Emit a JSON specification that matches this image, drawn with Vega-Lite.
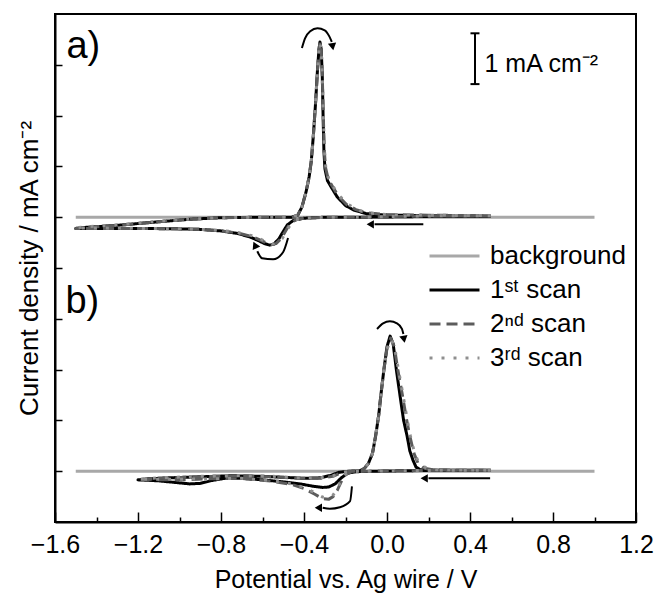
{
  "$schema": "https://vega.github.io/schema/vega-lite/v6.json",
  "width": 581,
  "height": 508,
  "autosize": {"type": "none"},
  "padding": {"left": 55, "top": 14, "right": 18, "bottom": 73},
  "config": {
    "font": "Liberation Sans",
    "view": {"stroke": "#000", "strokeWidth": 2},
    "axis": {"domainColor": "#000", "domainWidth": 2, "tickColor": "#000", "tickWidth": 1.5, "grid": false, "labelColor": "#000", "titleColor": "#000", "titleFontWeight": "normal", "labelFont": "Liberation Sans", "titleFont": "Liberation Sans"},
    "legend": {"labelFont": "Liberation Sans"}
  },
  "datasets": {
    "cv": [
      {"p":"a","s":"bg","i":0,"E":-1.5,"j":6.0},{"p":"a","s":"bg","i":1,"E":1.0,"j":6.0},
      {"p":"b","s":"bg","i":0,"E":-1.5,"j":1.0},{"p":"b","s":"bg","i":1,"E":1.0,"j":1.0},

      {"p":"a","s":"s1","i":0,"E":0.5,"j":6.02},{"p":"a","s":"s1","i":1,"E":0.3,"j":6.02},{"p":"a","s":"s1","i":2,"E":0.1,"j":6.01},{"p":"a","s":"s1","i":3,"E":-0.1,"j":6.0},{"p":"a","s":"s1","i":4,"E":-0.3,"j":6.0},{"p":"a","s":"s1","i":5,"E":-0.4,"j":5.98},{"p":"a","s":"s1","i":6,"E":-0.45,"j":5.94},{"p":"a","s":"s1","i":7,"E":-0.48,"j":5.85},{"p":"a","s":"s1","i":8,"E":-0.5,"j":5.72},{"p":"a","s":"s1","i":9,"E":-0.52,"j":5.58},{"p":"a","s":"s1","i":10,"E":-0.545,"j":5.47},{"p":"a","s":"s1","i":11,"E":-0.565,"j":5.45},{"p":"a","s":"s1","i":12,"E":-0.59,"j":5.48},{"p":"a","s":"s1","i":13,"E":-0.62,"j":5.54},{"p":"a","s":"s1","i":14,"E":-0.66,"j":5.61},{"p":"a","s":"s1","i":15,"E":-0.72,"j":5.68},{"p":"a","s":"s1","i":16,"E":-0.8,"j":5.73},{"p":"a","s":"s1","i":17,"E":-0.9,"j":5.76},{"p":"a","s":"s1","i":18,"E":-1.0,"j":5.77},{"p":"a","s":"s1","i":19,"E":-1.2,"j":5.78},{"p":"a","s":"s1","i":20,"E":-1.5,"j":5.78},{"p":"a","s":"s1","i":21,"E":-1.45,"j":5.8},{"p":"a","s":"s1","i":22,"E":-1.3,"j":5.84},{"p":"a","s":"s1","i":23,"E":-1.1,"j":5.91},{"p":"a","s":"s1","i":24,"E":-0.95,"j":5.96},{"p":"a","s":"s1","i":25,"E":-0.8,"j":5.99},{"p":"a","s":"s1","i":26,"E":-0.6,"j":6.0},{"p":"a","s":"s1","i":27,"E":-0.46,"j":6.0},{"p":"a","s":"s1","i":28,"E":-0.43,"j":6.04},{"p":"a","s":"s1","i":29,"E":-0.41,"j":6.2},{"p":"a","s":"s1","i":30,"E":-0.39,"j":6.5},{"p":"a","s":"s1","i":31,"E":-0.375,"j":6.8},{"p":"a","s":"s1","i":32,"E":-0.365,"j":7.1},{"p":"a","s":"s1","i":33,"E":-0.355,"j":7.6},{"p":"a","s":"s1","i":34,"E":-0.345,"j":8.2},{"p":"a","s":"s1","i":35,"E":-0.335,"j":8.9},{"p":"a","s":"s1","i":36,"E":-0.328,"j":9.3},{"p":"a","s":"s1","i":37,"E":-0.323,"j":9.45},{"p":"a","s":"s1","i":38,"E":-0.317,"j":9.3},{"p":"a","s":"s1","i":39,"E":-0.312,"j":8.8},{"p":"a","s":"s1","i":40,"E":-0.308,"j":8.0},{"p":"a","s":"s1","i":41,"E":-0.304,"j":7.3},{"p":"a","s":"s1","i":42,"E":-0.299,"j":6.95},{"p":"a","s":"s1","i":43,"E":-0.287,"j":6.72},{"p":"a","s":"s1","i":44,"E":-0.267,"j":6.58},{"p":"a","s":"s1","i":45,"E":-0.24,"j":6.4},{"p":"a","s":"s1","i":46,"E":-0.2,"j":6.23},{"p":"a","s":"s1","i":47,"E":-0.16,"j":6.14},{"p":"a","s":"s1","i":48,"E":-0.1,"j":6.07},{"p":"a","s":"s1","i":49,"E":0.0,"j":6.04},{"p":"a","s":"s1","i":50,"E":0.2,"j":6.03},{"p":"a","s":"s1","i":51,"E":0.5,"j":6.02},

      {"p":"a","s":"s2","i":0,"E":0.5,"j":6.03},{"p":"a","s":"s2","i":1,"E":0.3,"j":6.03},{"p":"a","s":"s2","i":2,"E":0.1,"j":6.02},{"p":"a","s":"s2","i":3,"E":-0.1,"j":6.0},{"p":"a","s":"s2","i":4,"E":-0.3,"j":6.0},{"p":"a","s":"s2","i":5,"E":-0.4,"j":5.98},{"p":"a","s":"s2","i":6,"E":-0.44,"j":5.95},{"p":"a","s":"s2","i":7,"E":-0.47,"j":5.86},{"p":"a","s":"s2","i":8,"E":-0.49,"j":5.72},{"p":"a","s":"s2","i":9,"E":-0.51,"j":5.58},{"p":"a","s":"s2","i":10,"E":-0.535,"j":5.48},{"p":"a","s":"s2","i":11,"E":-0.555,"j":5.46},{"p":"a","s":"s2","i":12,"E":-0.58,"j":5.49},{"p":"a","s":"s2","i":13,"E":-0.61,"j":5.55},{"p":"a","s":"s2","i":14,"E":-0.65,"j":5.62},{"p":"a","s":"s2","i":15,"E":-0.72,"j":5.69},{"p":"a","s":"s2","i":16,"E":-0.8,"j":5.73},{"p":"a","s":"s2","i":17,"E":-0.9,"j":5.76},{"p":"a","s":"s2","i":18,"E":-1.0,"j":5.77},{"p":"a","s":"s2","i":19,"E":-1.2,"j":5.78},{"p":"a","s":"s2","i":20,"E":-1.5,"j":5.78},{"p":"a","s":"s2","i":21,"E":-1.45,"j":5.8},{"p":"a","s":"s2","i":22,"E":-1.3,"j":5.84},{"p":"a","s":"s2","i":23,"E":-1.1,"j":5.91},{"p":"a","s":"s2","i":24,"E":-0.95,"j":5.96},{"p":"a","s":"s2","i":25,"E":-0.8,"j":5.99},{"p":"a","s":"s2","i":26,"E":-0.6,"j":6.0},{"p":"a","s":"s2","i":27,"E":-0.46,"j":6.0},{"p":"a","s":"s2","i":28,"E":-0.43,"j":6.04},{"p":"a","s":"s2","i":29,"E":-0.41,"j":6.2},{"p":"a","s":"s2","i":30,"E":-0.39,"j":6.5},{"p":"a","s":"s2","i":31,"E":-0.375,"j":6.8},{"p":"a","s":"s2","i":32,"E":-0.365,"j":7.1},{"p":"a","s":"s2","i":33,"E":-0.355,"j":7.6},{"p":"a","s":"s2","i":34,"E":-0.345,"j":8.2},{"p":"a","s":"s2","i":35,"E":-0.335,"j":8.9},{"p":"a","s":"s2","i":36,"E":-0.328,"j":9.3},{"p":"a","s":"s2","i":37,"E":-0.323,"j":9.44},{"p":"a","s":"s2","i":38,"E":-0.317,"j":9.3},{"p":"a","s":"s2","i":39,"E":-0.312,"j":8.8},{"p":"a","s":"s2","i":40,"E":-0.307,"j":8.0},{"p":"a","s":"s2","i":41,"E":-0.302,"j":7.3},{"p":"a","s":"s2","i":42,"E":-0.296,"j":6.97},{"p":"a","s":"s2","i":43,"E":-0.283,"j":6.75},{"p":"a","s":"s2","i":44,"E":-0.262,"j":6.6},{"p":"a","s":"s2","i":45,"E":-0.235,"j":6.42},{"p":"a","s":"s2","i":46,"E":-0.195,"j":6.25},{"p":"a","s":"s2","i":47,"E":-0.15,"j":6.15},{"p":"a","s":"s2","i":48,"E":-0.1,"j":6.09},{"p":"a","s":"s2","i":49,"E":0.0,"j":6.05},{"p":"a","s":"s2","i":50,"E":0.2,"j":6.04},{"p":"a","s":"s2","i":51,"E":0.5,"j":6.03},

      {"p":"a","s":"s3","i":0,"E":0.5,"j":6.03},{"p":"a","s":"s3","i":1,"E":0.3,"j":6.03},{"p":"a","s":"s3","i":2,"E":0.1,"j":6.02},{"p":"a","s":"s3","i":3,"E":-0.1,"j":6.0},{"p":"a","s":"s3","i":4,"E":-0.3,"j":6.0},{"p":"a","s":"s3","i":5,"E":-0.4,"j":5.98},{"p":"a","s":"s3","i":6,"E":-0.44,"j":5.95},{"p":"a","s":"s3","i":7,"E":-0.465,"j":5.86},{"p":"a","s":"s3","i":8,"E":-0.485,"j":5.72},{"p":"a","s":"s3","i":9,"E":-0.505,"j":5.58},{"p":"a","s":"s3","i":10,"E":-0.53,"j":5.49},{"p":"a","s":"s3","i":11,"E":-0.55,"j":5.47},{"p":"a","s":"s3","i":12,"E":-0.575,"j":5.5},{"p":"a","s":"s3","i":13,"E":-0.605,"j":5.56},{"p":"a","s":"s3","i":14,"E":-0.645,"j":5.63},{"p":"a","s":"s3","i":15,"E":-0.72,"j":5.7},{"p":"a","s":"s3","i":16,"E":-0.8,"j":5.74},{"p":"a","s":"s3","i":17,"E":-0.9,"j":5.76},{"p":"a","s":"s3","i":18,"E":-1.0,"j":5.77},{"p":"a","s":"s3","i":19,"E":-1.2,"j":5.78},{"p":"a","s":"s3","i":20,"E":-1.5,"j":5.79},{"p":"a","s":"s3","i":21,"E":-1.45,"j":5.81},{"p":"a","s":"s3","i":22,"E":-1.3,"j":5.85},{"p":"a","s":"s3","i":23,"E":-1.1,"j":5.92},{"p":"a","s":"s3","i":24,"E":-0.95,"j":5.96},{"p":"a","s":"s3","i":25,"E":-0.8,"j":5.99},{"p":"a","s":"s3","i":26,"E":-0.6,"j":6.0},{"p":"a","s":"s3","i":27,"E":-0.46,"j":6.0},{"p":"a","s":"s3","i":28,"E":-0.43,"j":6.04},{"p":"a","s":"s3","i":29,"E":-0.41,"j":6.2},{"p":"a","s":"s3","i":30,"E":-0.39,"j":6.5},{"p":"a","s":"s3","i":31,"E":-0.375,"j":6.8},{"p":"a","s":"s3","i":32,"E":-0.365,"j":7.1},{"p":"a","s":"s3","i":33,"E":-0.355,"j":7.6},{"p":"a","s":"s3","i":34,"E":-0.345,"j":8.2},{"p":"a","s":"s3","i":35,"E":-0.335,"j":8.9},{"p":"a","s":"s3","i":36,"E":-0.328,"j":9.3},{"p":"a","s":"s3","i":37,"E":-0.323,"j":9.43},{"p":"a","s":"s3","i":38,"E":-0.317,"j":9.3},{"p":"a","s":"s3","i":39,"E":-0.312,"j":8.8},{"p":"a","s":"s3","i":40,"E":-0.307,"j":8.0},{"p":"a","s":"s3","i":41,"E":-0.301,"j":7.3},{"p":"a","s":"s3","i":42,"E":-0.295,"j":6.98},{"p":"a","s":"s3","i":43,"E":-0.281,"j":6.76},{"p":"a","s":"s3","i":44,"E":-0.26,"j":6.61},{"p":"a","s":"s3","i":45,"E":-0.232,"j":6.43},{"p":"a","s":"s3","i":46,"E":-0.19,"j":6.26},{"p":"a","s":"s3","i":47,"E":-0.145,"j":6.15},{"p":"a","s":"s3","i":48,"E":-0.1,"j":6.09},{"p":"a","s":"s3","i":49,"E":0.0,"j":6.05},{"p":"a","s":"s3","i":50,"E":0.2,"j":6.04},{"p":"a","s":"s3","i":51,"E":0.5,"j":6.03},

      {"p":"b","s":"s1","i":0,"E":0.5,"j":1.02},{"p":"b","s":"s1","i":1,"E":0.3,"j":1.02},{"p":"b","s":"s1","i":2,"E":0.1,"j":1.01},{"p":"b","s":"s1","i":3,"E":-0.05,"j":1.0},{"p":"b","s":"s1","i":4,"E":-0.15,"j":0.99},{"p":"b","s":"s1","i":5,"E":-0.19,"j":0.96},{"p":"b","s":"s1","i":6,"E":-0.22,"j":0.87},{"p":"b","s":"s1","i":7,"E":-0.25,"j":0.75},{"p":"b","s":"s1","i":8,"E":-0.28,"j":0.69},{"p":"b","s":"s1","i":9,"E":-0.31,"j":0.68},{"p":"b","s":"s1","i":10,"E":-0.35,"j":0.7},{"p":"b","s":"s1","i":11,"E":-0.42,"j":0.75},{"p":"b","s":"s1","i":12,"E":-0.5,"j":0.79},{"p":"b","s":"s1","i":13,"E":-0.6,"j":0.83},{"p":"b","s":"s1","i":14,"E":-0.7,"j":0.86},{"p":"b","s":"s1","i":15,"E":-0.78,"j":0.86},{"p":"b","s":"s1","i":16,"E":-0.84,"j":0.82},{"p":"b","s":"s1","i":17,"E":-0.9,"j":0.76},{"p":"b","s":"s1","i":18,"E":-0.95,"j":0.75},{"p":"b","s":"s1","i":19,"E":-1.0,"j":0.77},{"p":"b","s":"s1","i":20,"E":-1.1,"j":0.81},{"p":"b","s":"s1","i":21,"E":-1.2,"j":0.83},{"p":"b","s":"s1","i":22,"E":-1.15,"j":0.85},{"p":"b","s":"s1","i":23,"E":-1.05,"j":0.87},{"p":"b","s":"s1","i":24,"E":-0.9,"j":0.89},{"p":"b","s":"s1","i":25,"E":-0.75,"j":0.91},{"p":"b","s":"s1","i":26,"E":-0.6,"j":0.9},{"p":"b","s":"s1","i":27,"E":-0.5,"j":0.88},{"p":"b","s":"s1","i":28,"E":-0.4,"j":0.86},{"p":"b","s":"s1","i":29,"E":-0.32,"j":0.87},{"p":"b","s":"s1","i":30,"E":-0.27,"j":0.92},{"p":"b","s":"s1","i":31,"E":-0.23,"j":0.98},{"p":"b","s":"s1","i":32,"E":-0.18,"j":1.0},{"p":"b","s":"s1","i":33,"E":-0.13,"j":1.01},{"p":"b","s":"s1","i":34,"E":-0.11,"j":1.05},{"p":"b","s":"s1","i":35,"E":-0.09,"j":1.15},{"p":"b","s":"s1","i":36,"E":-0.07,"j":1.35},{"p":"b","s":"s1","i":37,"E":-0.055,"j":1.69},{"p":"b","s":"s1","i":38,"E":-0.04,"j":2.1},{"p":"b","s":"s1","i":39,"E":-0.03,"j":2.48},{"p":"b","s":"s1","i":40,"E":-0.015,"j":3.0},{"p":"b","s":"s1","i":41,"E":0.0,"j":3.45},{"p":"b","s":"s1","i":42,"E":0.015,"j":3.66},{"p":"b","s":"s1","i":43,"E":0.03,"j":3.5},{"p":"b","s":"s1","i":44,"E":0.045,"j":3.0},{"p":"b","s":"s1","i":45,"E":0.063,"j":2.48},{"p":"b","s":"s1","i":46,"E":0.08,"j":2.0},{"p":"b","s":"s1","i":47,"E":0.097,"j":1.69},{"p":"b","s":"s1","i":48,"E":0.11,"j":1.4},{"p":"b","s":"s1","i":49,"E":0.125,"j":1.22},{"p":"b","s":"s1","i":50,"E":0.14,"j":1.08},{"p":"b","s":"s1","i":51,"E":0.16,"j":1.03},{"p":"b","s":"s1","i":52,"E":0.25,"j":1.02},{"p":"b","s":"s1","i":53,"E":0.5,"j":1.02},

      {"p":"b","s":"s2","i":0,"E":0.5,"j":1.02},{"p":"b","s":"s2","i":1,"E":0.3,"j":1.02},{"p":"b","s":"s2","i":2,"E":0.1,"j":1.01},{"p":"b","s":"s2","i":3,"E":-0.1,"j":1.0},{"p":"b","s":"s2","i":4,"E":-0.17,"j":0.99},{"p":"b","s":"s2","i":5,"E":-0.2,"j":0.93},{"p":"b","s":"s2","i":6,"E":-0.22,"j":0.8},{"p":"b","s":"s2","i":7,"E":-0.24,"j":0.62},{"p":"b","s":"s2","i":8,"E":-0.26,"j":0.5},{"p":"b","s":"s2","i":9,"E":-0.28,"j":0.45},{"p":"b","s":"s2","i":10,"E":-0.31,"j":0.46},{"p":"b","s":"s2","i":11,"E":-0.35,"j":0.55},{"p":"b","s":"s2","i":12,"E":-0.4,"j":0.66},{"p":"b","s":"s2","i":13,"E":-0.46,"j":0.74},{"p":"b","s":"s2","i":14,"E":-0.55,"j":0.8},{"p":"b","s":"s2","i":15,"E":-0.7,"j":0.86},{"p":"b","s":"s2","i":16,"E":-0.85,"j":0.85},{"p":"b","s":"s2","i":17,"E":-1.0,"j":0.83},{"p":"b","s":"s2","i":18,"E":-1.2,"j":0.83},{"p":"b","s":"s2","i":19,"E":-1.1,"j":0.86},{"p":"b","s":"s2","i":20,"E":-0.9,"j":0.89},{"p":"b","s":"s2","i":21,"E":-0.7,"j":0.91},{"p":"b","s":"s2","i":22,"E":-0.55,"j":0.89},{"p":"b","s":"s2","i":23,"E":-0.42,"j":0.86},{"p":"b","s":"s2","i":24,"E":-0.32,"j":0.86},{"p":"b","s":"s2","i":25,"E":-0.26,"j":0.9},{"p":"b","s":"s2","i":26,"E":-0.22,"j":0.97},{"p":"b","s":"s2","i":27,"E":-0.18,"j":1.0},{"p":"b","s":"s2","i":28,"E":-0.13,"j":1.01},{"p":"b","s":"s2","i":29,"E":-0.11,"j":1.05},{"p":"b","s":"s2","i":30,"E":-0.09,"j":1.15},{"p":"b","s":"s2","i":31,"E":-0.07,"j":1.35},{"p":"b","s":"s2","i":32,"E":-0.055,"j":1.69},{"p":"b","s":"s2","i":33,"E":-0.04,"j":2.1},{"p":"b","s":"s2","i":34,"E":-0.03,"j":2.48},{"p":"b","s":"s2","i":35,"E":-0.015,"j":3.0},{"p":"b","s":"s2","i":36,"E":0.0,"j":3.42},{"p":"b","s":"s2","i":37,"E":0.018,"j":3.62},{"p":"b","s":"s2","i":38,"E":0.035,"j":3.45},{"p":"b","s":"s2","i":39,"E":0.052,"j":3.0},{"p":"b","s":"s2","i":40,"E":0.075,"j":2.48},{"p":"b","s":"s2","i":41,"E":0.095,"j":2.0},{"p":"b","s":"s2","i":42,"E":0.11,"j":1.69},{"p":"b","s":"s2","i":43,"E":0.13,"j":1.35},{"p":"b","s":"s2","i":44,"E":0.15,"j":1.15},{"p":"b","s":"s2","i":45,"E":0.18,"j":1.06},{"p":"b","s":"s2","i":46,"E":0.22,"j":1.03},{"p":"b","s":"s2","i":47,"E":0.5,"j":1.02},

      {"p":"b","s":"s3","i":0,"E":0.5,"j":1.02},{"p":"b","s":"s3","i":1,"E":0.3,"j":1.02},{"p":"b","s":"s3","i":2,"E":0.1,"j":1.01},{"p":"b","s":"s3","i":3,"E":-0.1,"j":1.0},{"p":"b","s":"s3","i":4,"E":-0.17,"j":0.99},{"p":"b","s":"s3","i":5,"E":-0.2,"j":0.94},{"p":"b","s":"s3","i":6,"E":-0.22,"j":0.82},{"p":"b","s":"s3","i":7,"E":-0.24,"j":0.65},{"p":"b","s":"s3","i":8,"E":-0.26,"j":0.53},{"p":"b","s":"s3","i":9,"E":-0.28,"j":0.48},{"p":"b","s":"s3","i":10,"E":-0.31,"j":0.49},{"p":"b","s":"s3","i":11,"E":-0.35,"j":0.58},{"p":"b","s":"s3","i":12,"E":-0.4,"j":0.68},{"p":"b","s":"s3","i":13,"E":-0.46,"j":0.75},{"p":"b","s":"s3","i":14,"E":-0.55,"j":0.81},{"p":"b","s":"s3","i":15,"E":-0.7,"j":0.86},{"p":"b","s":"s3","i":16,"E":-0.85,"j":0.85},{"p":"b","s":"s3","i":17,"E":-1.0,"j":0.84},{"p":"b","s":"s3","i":18,"E":-1.2,"j":0.84},{"p":"b","s":"s3","i":19,"E":-1.1,"j":0.87},{"p":"b","s":"s3","i":20,"E":-0.9,"j":0.9},{"p":"b","s":"s3","i":21,"E":-0.7,"j":0.91},{"p":"b","s":"s3","i":22,"E":-0.55,"j":0.9},{"p":"b","s":"s3","i":23,"E":-0.42,"j":0.87},{"p":"b","s":"s3","i":24,"E":-0.32,"j":0.87},{"p":"b","s":"s3","i":25,"E":-0.26,"j":0.91},{"p":"b","s":"s3","i":26,"E":-0.22,"j":0.97},{"p":"b","s":"s3","i":27,"E":-0.18,"j":1.0},{"p":"b","s":"s3","i":28,"E":-0.13,"j":1.01},{"p":"b","s":"s3","i":29,"E":-0.11,"j":1.05},{"p":"b","s":"s3","i":30,"E":-0.09,"j":1.15},{"p":"b","s":"s3","i":31,"E":-0.07,"j":1.35},{"p":"b","s":"s3","i":32,"E":-0.055,"j":1.69},{"p":"b","s":"s3","i":33,"E":-0.04,"j":2.1},{"p":"b","s":"s3","i":34,"E":-0.03,"j":2.48},{"p":"b","s":"s3","i":35,"E":-0.015,"j":3.0},{"p":"b","s":"s3","i":36,"E":0.0,"j":3.4},{"p":"b","s":"s3","i":37,"E":0.02,"j":3.6},{"p":"b","s":"s3","i":38,"E":0.037,"j":3.44},{"p":"b","s":"s3","i":39,"E":0.055,"j":3.0},{"p":"b","s":"s3","i":40,"E":0.078,"j":2.48},{"p":"b","s":"s3","i":41,"E":0.098,"j":2.0},{"p":"b","s":"s3","i":42,"E":0.113,"j":1.69},{"p":"b","s":"s3","i":43,"E":0.133,"j":1.35},{"p":"b","s":"s3","i":44,"E":0.155,"j":1.15},{"p":"b","s":"s3","i":45,"E":0.19,"j":1.06},{"p":"b","s":"s3","i":46,"E":0.24,"j":1.03},{"p":"b","s":"s3","i":47,"E":0.5,"j":1.02}
    ],
    "arrows": [
      {"a":"at","i":0,"E":-0.41,"j":9.33},{"a":"at","i":1,"E":-0.395,"j":9.52},{"a":"at","i":2,"E":-0.37,"j":9.66},{"a":"at","i":3,"E":-0.335,"j":9.72},{"a":"at","i":4,"E":-0.3,"j":9.68},{"a":"at","i":5,"E":-0.278,"j":9.56},{"a":"at","i":6,"E":-0.266,"j":9.45},
      {"a":"ad","i":0,"E":-0.477,"j":5.59},{"a":"ad","i":1,"E":-0.501,"j":5.31},{"a":"ad","i":2,"E":-0.549,"j":5.17},{"a":"ad","i":3,"E":-0.602,"j":5.19},{"a":"ad","i":4,"E":-0.625,"j":5.33},
      {"a":"as","i":0,"E":0.175,"j":5.86},{"a":"as","i":1,"E":-0.06,"j":5.86},
      {"a":"bt","i":0,"E":-0.048,"j":3.8},{"a":"bt","i":1,"E":-0.019,"j":3.91},{"a":"bt","i":2,"E":0.014,"j":3.95},{"a":"bt","i":3,"E":0.048,"j":3.91},{"a":"bt","i":4,"E":0.072,"j":3.8},{"a":"bt","i":5,"E":0.079,"j":3.7},
      {"a":"bd","i":0,"E":-0.169,"j":0.7},{"a":"bd","i":1,"E":-0.178,"j":0.41},{"a":"bd","i":2,"E":-0.227,"j":0.29},{"a":"bd","i":3,"E":-0.275,"j":0.26},{"a":"bd","i":4,"E":-0.31,"j":0.28},
      {"a":"bs","i":0,"E":0.497,"j":0.86},{"a":"bs","i":1,"E":0.2,"j":0.86}
    ],
    "headsLeft": [
      {"E":-0.075,"j":5.86},{"E":0.185,"j":0.86},{"E":-0.325,"j":0.28}
    ],
    "headsDown": [
      {"E":-0.263,"j":9.38},{"E":0.081,"j":3.62}
    ],
    "headsUp": [
      {"E":-0.634,"j":5.43}
    ],
    "panelLabels": [
      {"t":"a)","E":-1.545,"j":9.13},{"t":"b)","E":-1.55,"j":4.11}
    ],
    "bar": [
      {"E":0.424,"j":8.62,"j2":9.62}
    ],
    "barEnds": [
      {"E":0.424,"j":8.62},{"E":0.424,"j":9.62}
    ],
    "barLabel": [
      {"t":"1 mA cm⁻²","E":0.47,"j":8.86}
    ]
  },
  "layer": [
    {
      "data": {"name": "cv"},
      "mark": {"type": "line", "strokeWidth": 3, "strokeCap": "butt", "strokeJoin": "round"},
      "encoding": {
        "x": {"field": "E", "type": "quantitative",
          "scale": {"domain": [-1.6, 1.2], "nice": false, "zero": false},
          "axis": {"title": "Potential vs. Ag wire / V",
            "values": [-1.6,-1.4,-1.2,-1.0,-0.8,-0.6,-0.4,-0.2,0,0.2,0.4,0.6,0.8,1.0,1.2],
            "format": ".1f",
            "labelExpr": "round(datum.value*10)%4==0 ? datum.label : ''",
            "tickSize": {"condition": {"test": "round(datum.value*10)%4==0", "value": -10}, "value": -5},
            "labelPadding": 20, "labelFontSize": 25, "labelOverlap": false, "labelFlush": false,
            "titleFontSize": 25, "titlePadding": 5}},
        "y": {"field": "j", "type": "quantitative",
          "scale": {"domain": [0, 10], "nice": false, "zero": false},
          "axis": {"title": "Current density / mA cm⁻²", "labels": false,
            "values": [1,2,3,4,5,6,7,8,9], "tickSize": -7,
            "titleFontSize": 26, "titlePadding": 12}},
        "color": {"field": "s", "type": "nominal",
          "scale": {"domain": ["bg","s1","s2","s3"], "range": ["#a8a8a8","#000000","#5c5c5c","#8f8f8f"]},
          "legend": {"title": null, "orient": "none", "legendX": 373, "legendY": 225,
            "labelExpr": "datum.label=='bg' ? 'background' : datum.label=='s1' ? '1ˢᵗ scan' : datum.label=='s2' ? '2ⁿᵈ scan' : '3ʳᵈ scan'",
            "symbolType": "stroke", "symbolSize": 2500, "symbolStrokeWidth": 3,
            "labelFontSize": 26, "labelColor": "#000", "labelOffset": 9, "clipHeight": 34, "rowPadding": 0, "padding": 0, "symbolOffset": 0}},
        "strokeDash": {"field": "s", "type": "nominal",
          "scale": {"domain": ["bg","s1","s2","s3"], "range": [[1,0],[1,0],[11,6],[3,9]]}},
        "detail": {"field": "p"},
        "order": {"field": "i", "type": "quantitative"}
      }
    },
    {
      "data": {"name": "arrows"},
      "mark": {"type": "line", "color": "#000", "strokeWidth": 2, "interpolate": "monotone"},
      "encoding": {
        "x": {"field": "E", "type": "quantitative"},
        "y": {"field": "j", "type": "quantitative"},
        "detail": {"field": "a"},
        "order": {"field": "i", "type": "quantitative"}
      }
    },
    {
      "data": {"name": "headsLeft"},
      "mark": {"type": "point", "shape": "triangle", "angle": 270, "filled": true, "color": "#000", "size": 70, "opacity": 1},
      "encoding": {"x": {"field": "E", "type": "quantitative"}, "y": {"field": "j", "type": "quantitative"}}
    },
    {
      "data": {"name": "headsDown"},
      "mark": {"type": "point", "shape": "triangle", "angle": 170, "filled": true, "color": "#000", "size": 70, "opacity": 1},
      "encoding": {"x": {"field": "E", "type": "quantitative"}, "y": {"field": "j", "type": "quantitative"}}
    },
    {
      "data": {"name": "headsUp"},
      "mark": {"type": "point", "shape": "triangle", "angle": -25, "filled": true, "color": "#000", "size": 70, "opacity": 1},
      "encoding": {"x": {"field": "E", "type": "quantitative"}, "y": {"field": "j", "type": "quantitative"}}
    },
    {
      "data": {"name": "bar"},
      "mark": {"type": "rule", "color": "#000", "strokeWidth": 2},
      "encoding": {"x": {"field": "E", "type": "quantitative"}, "y": {"field": "j", "type": "quantitative"}, "y2": {"field": "j2"}}
    },
    {
      "data": {"name": "barEnds"},
      "mark": {"type": "tick", "orient": "horizontal", "color": "#000", "size": 9, "thickness": 2, "opacity": 1},
      "encoding": {"x": {"field": "E", "type": "quantitative"}, "y": {"field": "j", "type": "quantitative"}}
    },
    {
      "data": {"name": "panelLabels"},
      "mark": {"type": "text", "align": "left", "baseline": "alphabetic", "fontSize": 38, "color": "#000"},
      "encoding": {"x": {"field": "E", "type": "quantitative"}, "y": {"field": "j", "type": "quantitative"}, "text": {"field": "t"}}
    },
    {
      "data": {"name": "barLabel"},
      "mark": {"type": "text", "align": "left", "baseline": "alphabetic", "fontSize": 25, "color": "#000"},
      "encoding": {"x": {"field": "E", "type": "quantitative"}, "y": {"field": "j", "type": "quantitative"}, "text": {"field": "t"}}
    }
  ]
}
